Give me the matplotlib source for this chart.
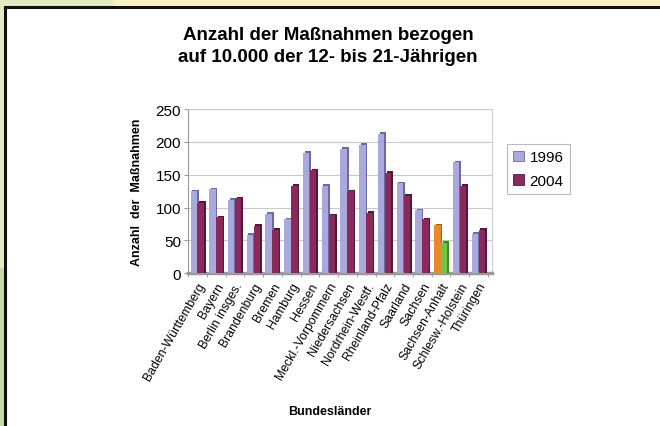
import numpy as np
import matplotlib.pyplot as plt
from matplotlib.patches import Rectangle

plt.rcParams['font.family'] = ['Liberation Sans', 'DejaVu Sans']

laender = ["Baden-Württemberg", "Bayern", "Berlin insges.", "Brandenburg", "Bremen",
           "Hamburg", "Hessen", "Meckl.-Vorpommern", "Niedersachsen", "Nordrhein-Westf.",
           "Rheinland-Pfalz", "Saarland", "Sachsen", "Sachsen-Anhalt", "Schlesw.-Holstein",
           "Thüringen"]
werte_1996 = [125, 128, 112, 58, 90, 82, 183, 133, 190, 196, 212, 137, 96, 73, 169, 60]
werte_2004 = [107, 85, 114, 72, 66, 133, 157, 88, 125, 92, 153, 118, 82, 46, 133, 66]
jahre = ["1996", "2004"]

c96, c96_dark = "#a9a9dd", "#6a6aa6"
c04, c04_dark = "#8a2a5a", "#52173a"
# Sachsen-Anhalt is highlighted in the original
hl = laender.index("Sachsen-Anhalt")

fig = plt.figure(figsize=(6.6, 4.27), dpi=100)
fig.patch.set_facecolor("white")

# page background around the white panel
fig.patches.append(Rectangle((0, 0), 1, 1, transform=fig.transFigure, color="#fbf2c4", zorder=-5))
fig.patches.append(Rectangle((0, 0), 0.17, 1, transform=fig.transFigure, color="#e4ebc4", zorder=-4))
fig.patches.append(Rectangle((0, 0), 0.17, 0.37, transform=fig.transFigure, color="#c3dca7", zorder=-4))
fig.patches.append(Rectangle((0.0075, -0.05), 1.1, 1.031, transform=fig.transFigure,
                             facecolor="white", edgecolor="#111111", linewidth=2.2, zorder=-3))

ax = fig.add_axes([0.285, 0.358, 0.46, 0.384])
x = np.arange(len(laender))
w = 0.34
d = 0.09   # depth offset for fake 3d
dh = 2.5

col96 = [c96] * len(laender)
col96d = [c96_dark] * len(laender)
col04 = [c04] * len(laender)
col04d = [c04_dark] * len(laender)
col96[hl], col96d[hl] = "#e8892e", "#a85a14"
col04[hl], col04d[hl] = "#72c444", "#3f8a22"

x96 = x - 0.2
x04 = x + 0.17
ax.bar(x96 + d, np.array(werte_1996) + dh, width=w, color=col96d, zorder=2)
ax.bar(x96, werte_1996, width=w, color=col96, zorder=3)
ax.bar(x04 + d, np.array(werte_2004) + dh, width=w, color=col04d, zorder=4)
ax.bar(x04, werte_2004, width=w, color=col04, zorder=5)

ax.set_xlim(-0.45, len(laender) - 0.3)
ax.set_ylim(0, 250)
ax.set_yticks(np.arange(0, 251, 50))
ax.yaxis.grid(True, color="#c8c8c8", linewidth=0.8)
ax.set_axisbelow(True)
for s in ["top", "right"]:
    ax.spines[s].set_color("#cccccc")
    ax.spines[s].set_linewidth(0.8)
ax.spines["left"].set_color("#999999")
ax.spines["bottom"].set_color("#999999")
ax.spines["bottom"].set_linewidth(2.5)
ax.tick_params(axis="y", labelsize=11, length=3, color="#999999", pad=2)
ax.set_xticks(x)
ax.set_xticklabels(laender, rotation=60, ha="right", rotation_mode="anchor", fontsize=8.8)
ax.tick_params(axis="x", length=0, pad=5)
ax.set_xticks(np.arange(-0.5, len(laender)), minor=True)
ax.tick_params(axis="x", which="minor", length=3, color="#999999")

ax.set_ylabel("Anzahl  der  Maßnahmen", fontsize=9, fontweight="bold", labelpad=9)
fig.text(0.5, 0.028, "Bundesländer", fontsize=9, fontweight="bold", ha="center")
fig.text(0.497, 0.891, "Anzahl der Maßnahmen bezogen\nauf 10.000 der 12- bis 21-Jährigen",
         fontsize=13.5, fontweight="bold", ha="center", va="center", linespacing=1.45)

h1 = Rectangle((0, 0), 1, 1, facecolor=c96, edgecolor=c96_dark, linewidth=0.6)
h2 = Rectangle((0, 0), 1, 1, facecolor=c04, edgecolor=c04_dark, linewidth=0.6)
leg = fig.legend([h1, h2], jahre, loc="upper left", bbox_to_anchor=(0.757, 0.678),
                 fontsize=11, frameon=True, fancybox=False, edgecolor="#aaaaaa",
                 handlelength=0.7, handleheight=0.7, handletextpad=0.35,
                 borderpad=0.4, labelspacing=0.65)
leg.get_frame().set_linewidth(0.8)

fig.savefig("out.png", dpi=100)
